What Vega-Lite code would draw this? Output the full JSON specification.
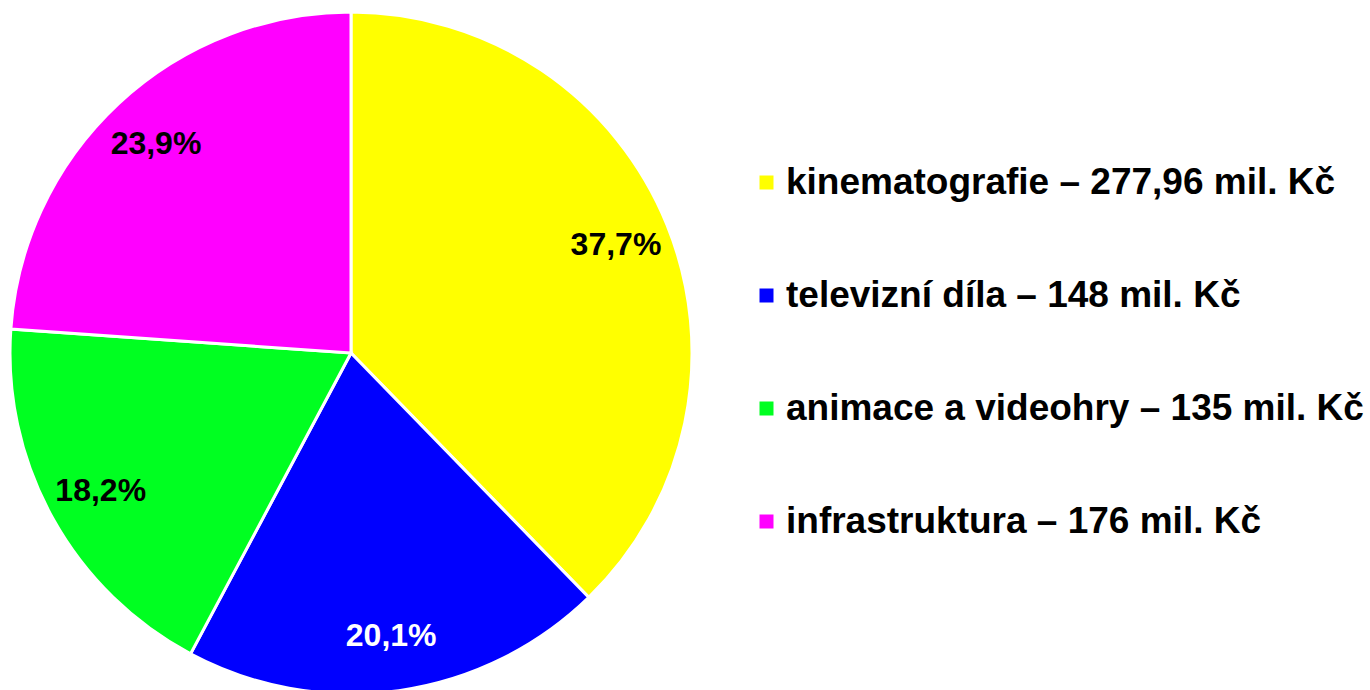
{
  "$schema": "https://vega.github.io/schema/vega-lite/v6.json",
  "width": 702,
  "height": 706,
  "autosize": {"type": "pad"},
  "padding": 0,
  "background": "white",
  "data": {
    "values": [
      {"k": 1, "category": "kinematografie – 277,96 mil. Kč", "value": 277.96, "pct": "37,7%"},
      {"k": 2, "category": "televizní díla – 148 mil. Kč", "value": 148, "pct": "20,1%"},
      {"k": 3, "category": "animace a videohry – 135 mil. Kč", "value": 135, "pct": "18,2%"},
      {"k": 4, "category": "infrastruktura – 176 mil. Kč", "value": 176, "pct": "23,9%"}
    ]
  },
  "encoding": {
    "theta": {"field": "value", "type": "quantitative", "stack": true},
    "order": {"field": "k", "type": "quantitative"}
  },
  "layer": [
    {
      "mark": {"type": "arc", "outerRadius": 341, "stroke": "white", "strokeWidth": 3},
      "encoding": {
        "color": {
          "field": "category",
          "type": "nominal",
          "sort": null,
          "scale": {
            "domain": ["kinematografie – 277,96 mil. Kč", "televizní díla – 148 mil. Kč", "animace a videohry – 135 mil. Kč", "infrastruktura – 176 mil. Kč"],
            "range": ["#FFFF00", "#0000FF", "#00FF21", "#FF00FF"]
          },
          "legend": {
            "orient": "none",
            "legendX": 748,
            "legendY": 164,
            "title": null,
            "symbolType": "square",
            "symbolSize": 196,
            "symbolStrokeWidth": 0,
            "labelFont": "Liberation Sans",
            "labelFontWeight": "bold",
            "labelFontSize": 37,
            "labelColor": "black",
            "labelOffset": 1,
            "labelLimit": 1000,
            "rowPadding": 75
          }
        }
      }
    },
    {
      "mark": {"type": "text", "radius": 286, "font": "Liberation Sans", "fontWeight": "bold", "fontSize": 32},
      "encoding": {
        "text": {"field": "pct", "type": "nominal"},
        "color": {
          "condition": {"test": "datum.k === 2", "value": "white"},
          "value": "black"
        }
      }
    }
  ]
}
